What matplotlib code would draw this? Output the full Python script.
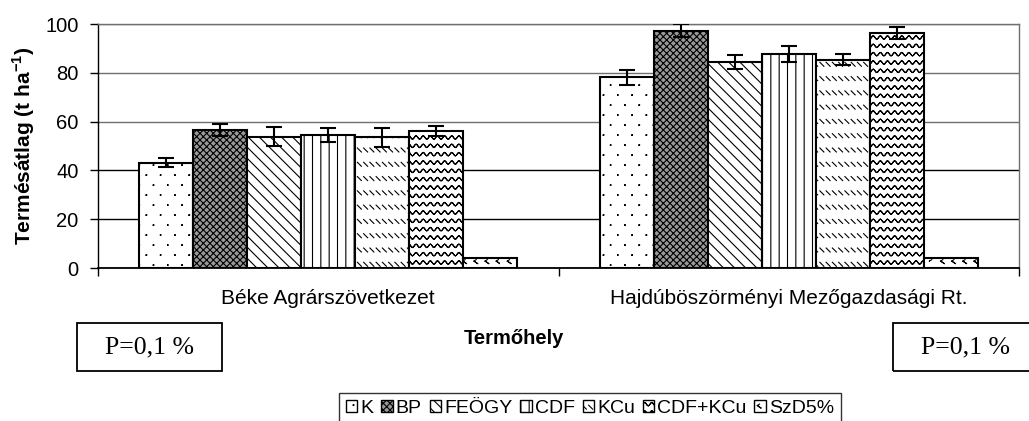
import warnings
import numpy as np
import matplotlib
matplotlib.use("Agg")
import matplotlib.pyplot as plt
import matplotlib.hatch as mhatch
from matplotlib.path import Path
from matplotlib.patches import Rectangle

warnings.filterwarnings("ignore")

# adatok (leolvasva a diagramrol)
sites = ["Béke Agrárszövetkezet", "Hajdúböszörményi Mezőgazdasági Rt."]
treatments = ["K", "BP", "FEÖGY", "CDF", "KCu", "CDF+KCu", "SzD5%"]
k_vals = [43.2, 78.1]
bp_vals = [56.6, 97.3]
feogy_vals = [53.8, 84.4]
cdf_vals = [54.6, 87.7]
kcu_vals = [53.5, 85.4]
cdfkcu_vals = [56.0, 96.4]
szd_vals = [4.2, 4.1]
k_err = [2.0, 3.0]
bp_err = [2.3, 2.5]
feogy_err = [4.0, 3.0]
cdf_err = [2.8, 3.3]
kcu_err = [4.0, 2.3]
cdfkcu_err = [2.0, 2.5]
y_ticks = [0, 20, 40, 60, 80, 100]


# sajat mintazatok: pontok (d), hullam (w), szaggatott atlo (k), kis csucsok (c)
class DotHatch(mhatch.HatchPatternBase):
    def __init__(self, hatch, density):
        self.rows = 10 if "d" in hatch else 0
        self.cols = 7
        self.num_vertices = self.rows * self.cols * 5

    def set_vertices_and_codes(self, vertices, codes):
        s = 0.003
        j = 0
        for r in range(self.rows):
            y = (r + 0.5) / self.rows
            for c in range(self.cols):
                x = (c + 0.25 + 0.5 * (r % 2)) / self.cols
                pts = [(x - s, y - s), (x + s, y - s), (x + s, y + s),
                       (x - s, y + s), (x - s, y - s)]
                for p in pts:
                    vertices[j] = p
                    codes[j] = Path.LINETO
                    j += 1
                codes[j - 5] = Path.MOVETO


class WaveHatch(mhatch.HatchPatternBase):
    def __init__(self, hatch, density):
        self.rows = 12 if "w" in hatch else 0
        self.n = 14 * 8 + 1
        self.num_vertices = self.rows * self.n * 2

    def set_vertices_and_codes(self, vertices, codes):
        xs = np.linspace(0, 1, self.n)
        for i in range(self.rows):
            y0 = (i + 0.5) / self.rows
            ys = y0 + 0.017 * np.sin(2 * np.pi * 14 * xs)
            a = i * self.n * 2
            vertices[a:a + self.n, 0] = xs
            vertices[a:a + self.n, 1] = ys
            vertices[a + self.n:a + 2 * self.n, 0] = xs[::-1]
            vertices[a + self.n:a + 2 * self.n, 1] = ys[::-1]
            codes[a:a + 2 * self.n] = Path.LINETO
            codes[a] = Path.MOVETO


class DashHatch(mhatch.HatchPatternBase):
    def __init__(self, hatch, density):
        self.rows = 7 if "k" in hatch else 0
        self.cols = 16
        self.num_vertices = self.rows * self.cols * 2

    def set_vertices_and_codes(self, vertices, codes):
        d = 0.02
        j = 0
        for r in range(self.rows):
            y = (r + 0.5) / self.rows
            for c in range(self.cols):
                x = (c + 0.5) / self.cols
                vertices[j] = (x - d, y + d)
                vertices[j + 1] = (x + d, y - d)
                codes[j] = Path.MOVETO
                codes[j + 1] = Path.LINETO
                j += 2


class ChevronHatch(mhatch.HatchPatternBase):
    def __init__(self, hatch, density):
        self.rows = 9 if "c" in hatch else 0
        self.cols = 9
        self.num_vertices = self.rows * self.cols * 4

    def set_vertices_and_codes(self, vertices, codes):
        j = 0
        for r in range(self.rows):
            y = (r + 0.5) / self.rows
            for c in range(self.cols):
                x = (c + 0.25 + 0.5 * (r % 2)) / self.cols
                pts = [(x + 0.012, y + 0.015), (x - 0.01, y),
                       (x + 0.012, y - 0.015), (x - 0.01, y)]
                for p in pts:
                    vertices[j] = p
                    codes[j] = Path.LINETO
                    j += 1
                codes[j - 4] = Path.MOVETO


mhatch._hatch_types.extend([DotHatch, WaveHatch, DashHatch, ChevronHatch])

plt.rcParams["font.family"] = ["Liberation Sans", "DejaVu Sans"]
plt.rcParams["mathtext.fontset"] = "custom"
plt.rcParams["mathtext.rm"] = "Liberation Sans"
plt.rcParams["mathtext.bf"] = "Liberation Sans:bold"
plt.rcParams["hatch.linewidth"] = 0.8

series = [k_vals, bp_vals, feogy_vals, cdf_vals, kcu_vals, cdfkcu_vals, szd_vals]
errors = [k_err, bp_err, feogy_err, cdf_err, kcu_err, cdfkcu_err, None]
faces = ["white", "#999999", "white", "white", "white", "white", "white"]
hatches = ["d", "xxxxx", "\\\\\\", "||", "k", "w", "c"]

fig = plt.figure(figsize=(10.29, 4.21), dpi=100)
ax = fig.add_axes([98 / 1029, 1 - 268 / 421, 921 / 1029, 244 / 421])

x = np.arange(len(sites))
width = 0.1174
handles = []
for i, vals in enumerate(series):
    pos = x + (i - 3) * width
    ax.bar(pos, vals, width, color=faces[i], edgecolor="black",
           linewidth=1.5, hatch=hatches[i], zorder=2)
    handles.append(Rectangle((0, 0), 1, 1, facecolor=faces[i],
                             edgecolor="black", linewidth=1, hatch=hatches[i]))
    if errors[i] is not None:
        ax.errorbar(pos, vals, yerr=errors[i], fmt="none", ecolor="black",
                    elinewidth=1.5, capsize=6, capthick=1.5, zorder=3)

ax.set_xlim(-0.5, 1.5)
ax.set_ylim(0, 100)
ax.set_yticks(y_ticks)
ax.set_xticks(x)
ax.set_xticklabels(sites, fontsize=15)
ax.set_xticks([-0.5, 0.5, 1.5], minor=True)
ax.tick_params(axis="x", which="major", length=0, pad=15)
ax.tick_params(axis="x", which="minor", length=6, width=1, color="black")
ax.tick_params(axis="y", length=6, width=1, pad=8, labelsize=14.5)

ax.set_axisbelow(True)
ax.yaxis.grid(True, color="black", linewidth=1)
for val, gl in zip(y_ticks, ax.get_ygridlines()):
    if val >= 60:
        gl.set_color("#707070")

for side in ["top", "right"]:
    ax.spines[side].set_color("#707070")
    ax.spines[side].set_linewidth(1)
ax.spines["left"].set_linewidth(1)
ax.spines["bottom"].set_linewidth(1.3)

ax.set_ylabel(r"Termésátlag (t ha$^{\mathbf{-1}}$)", fontsize=15,
              fontweight="bold")
ax.yaxis.set_label_coords(-0.066, 0.5)

fig.text(514 / 1029, 1 - 338 / 421, "Termőhely", fontsize=14.5,
         fontweight="bold", ha="center", va="center")

# P=0,1 % dobozok
for left in [77, 893]:
    fig.add_artist(Rectangle((left / 1029, 1 - 371 / 421), 145 / 1029,
                             48 / 421, transform=fig.transFigure,
                             fill=False, edgecolor="black", linewidth=1.3))
    fig.text((left + 72.5) / 1029, 1 - 347 / 421, "P=0,1 %",
             fontsize=18.5, family="Liberation Serif", ha="center",
             va="center")

leg = fig.legend(handles, treatments, loc="upper center",
                 bbox_to_anchor=(590 / 1029, 1 - 393 / 421), ncol=7,
                 frameon=True, fancybox=False, edgecolor="black",
                 fontsize=14, handlelength=0.6, handleheight=0.6,
                 handletextpad=0.15, columnspacing=0.4, borderpad=0.35,
                 borderaxespad=0)
leg.get_frame().set_linewidth(1)

fig.savefig("out.png", dpi=100)
